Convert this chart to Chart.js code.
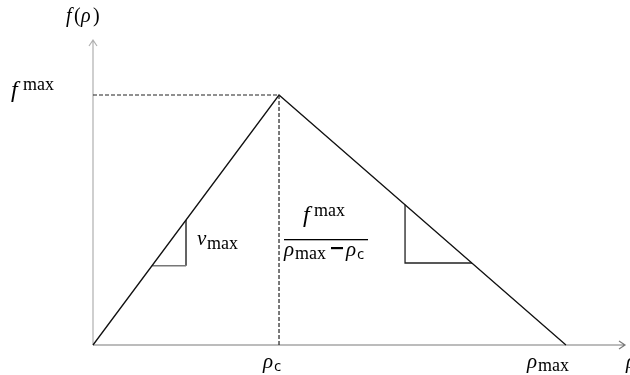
<!DOCTYPE html>
<html>
<head>
<meta charset="utf-8">
<script src="https://cdn.jsdelivr.net/npm/chart.js@4/dist/chart.umd.min.js"></script>
<style>
  html, body { margin: 0; padding: 0; background: #fff; }
  #wrap { width: 630px; height: 375px; }
</style>
</head>
<body>
<div id="wrap"><canvas id="fd"></canvas></div>
<script>
// triangular fundamental diagram: flow f against density rho
const rhoC = 40;
const rhoMax = 101.7;
const fMax = 1;
const xEnd = 114.4;
const yEnd = 1.22;

const flowCurve = [[0, 0], [rhoC, fMax], [rhoMax, 0]];
const capacityLine = [[0, fMax], [rhoC, fMax]];
const criticalLine = [[rhoC, 0], [rhoC, fMax]];
const freeSlope = [[12.7, 0.317], [20, 0.317], [20, 0.5]];
const congSlope = [[67.1, 0.561], [67.1, 0.328], [81.5, 0.328]];

const pts = arr => arr.map(([x, y]) => ({ x, y }));

function line(data, color, width, dash) {
  return {
    data: pts(data),
    showLine: true,
    borderColor: color,
    borderWidth: width,
    borderDash: dash || [],
    pointRadius: 0,
    fill: false,
    tension: 0,
    clip: false,
  };
}

const SERIF = '"Liberation Serif", "DejaVu Serif", serif';
const SANS = '"Open Sans", "Noto Sans", sans-serif';

// axes with open arrow heads, plus the math labels
const decor = {
  id: "decor",
  beforeDatasetsDraw(chart) {
    const { ctx, scales: { x, y } } = chart;
    const x0 = x.getPixelForValue(0), y0 = y.getPixelForValue(0);
    const xr = x.getPixelForValue(xEnd), yt = y.getPixelForValue(yEnd);
    ctx.save();
    ctx.lineWidth = 1.2;
    ctx.strokeStyle = "#b0b0b0";
    ctx.beginPath();
    ctx.moveTo(x0, y0); ctx.lineTo(x0, yt);
    ctx.moveTo(x0 - 4, yt + 6); ctx.lineTo(x0, yt); ctx.lineTo(x0 + 4, yt + 6);
    ctx.stroke();
    ctx.strokeStyle = "#7a7a7a";
    ctx.beginPath();
    ctx.moveTo(x0, y0); ctx.lineTo(xr, y0);
    ctx.moveTo(xr - 6, y0 - 4); ctx.lineTo(xr, y0); ctx.lineTo(xr - 6, y0 + 4);
    ctx.stroke();
    ctx.restore();
  },
  afterDatasetsDraw(chart) {
    const { ctx, scales: { x, y } } = chart;
    const px = v => x.getPixelForValue(v);
    const py = v => y.getPixelForValue(v);
    ctx.save();
    ctx.fillStyle = "#000";
    ctx.textBaseline = "alphabetic";

    const it = s => `italic ${s}px ${SERIF}`;
    const up = s => `${s}px ${SERIF}`;
    const sans = s => `${s}px ${SANS}`;

    // y axis title f(rho)
    const tx = px(0) - 27;
    ctx.font = it(20);
    ctx.fillText("f", tx, 22);
    ctx.font = up(20);
    ctx.fillText("(", tx + 8, 22);
    ctx.font = it(20);
    ctx.fillText("ρ", tx + 15, 22);
    ctx.font = up(20);
    ctx.fillText(")", tx + 27, 22);

    // f^max on the y axis
    ctx.font = it(24);
    ctx.fillText("f", 11, py(fMax) + 2);
    ctx.font = up(18);
    ctx.fillText("max", 23, py(fMax) - 5);

    // v_max beside the free-flow slope
    ctx.font = it(21);
    ctx.fillText("v", 197, py(0.42) + 5);
    ctx.font = up(18);
    ctx.fillText("max", 207, py(0.42) + 9);

    // congested slope fraction
    const fx = px(rhoC) + 5;
    const fy = py(0.42);
    ctx.font = it(24);
    ctx.fillText("f", fx + 19, fy - 18);
    ctx.font = up(18);
    ctx.fillText("max", fx + 30, fy - 24);
    ctx.fillRect(fx, fy - 1, 84, 1.3);
    ctx.font = it(21);
    ctx.fillText("ρ", fx, fy + 16);
    ctx.font = up(18);
    ctx.fillText("max", fx + 11, fy + 19);
    ctx.fillRect(fx + 47, fy + 7, 12, 2.2);
    ctx.font = it(21);
    ctx.fillText("ρ", fx + 62, fy + 16);
    ctx.font = sans(15);
    ctx.fillText("c", fx + 73, fy + 19);

    // x axis labels
    const ly = py(0) + 23;
    ctx.font = it(21);
    ctx.fillText("ρ", px(rhoC) - 16, ly);
    ctx.font = sans(15);
    ctx.fillText("c", px(rhoC) - 5, ly + 3);
    ctx.font = it(21);
    ctx.fillText("ρ", px(rhoMax) - 39, ly);
    ctx.font = up(18);
    ctx.fillText("max", px(rhoMax) - 28, ly + 3);
    ctx.font = it(21);
    ctx.fillText("ρ", px(xEnd) + 1, ly);
    ctx.restore();
  },
};

new Chart(document.getElementById("fd"), {
  type: "scatter",
  data: {
    datasets: [
      line(capacityLine, "#222", 1.2, [4, 2]),
      line(criticalLine, "#222", 1.2, [4, 2]),
      line(flowCurve, "#111", 1.3),
      line(freeSlope.slice(0, 2), "#777", 1.6),
      line(freeSlope.slice(1), "#111", 1.3),
      line(congSlope, "#222", 1.3),
    ],
  },
  options: {
    responsive: true,
    maintainAspectRatio: false,
    animation: false,
    layout: { padding: { left: 93, right: 5, top: 40, bottom: 30 } },
    scales: {
      x: { type: "linear", min: 0, max: xEnd, display: false },
      y: { type: "linear", min: 0, max: yEnd, display: false },
    },
    plugins: { legend: { display: false }, tooltip: { enabled: false } },
  },
  plugins: [decor],
});
</script>
</body>
</html>
